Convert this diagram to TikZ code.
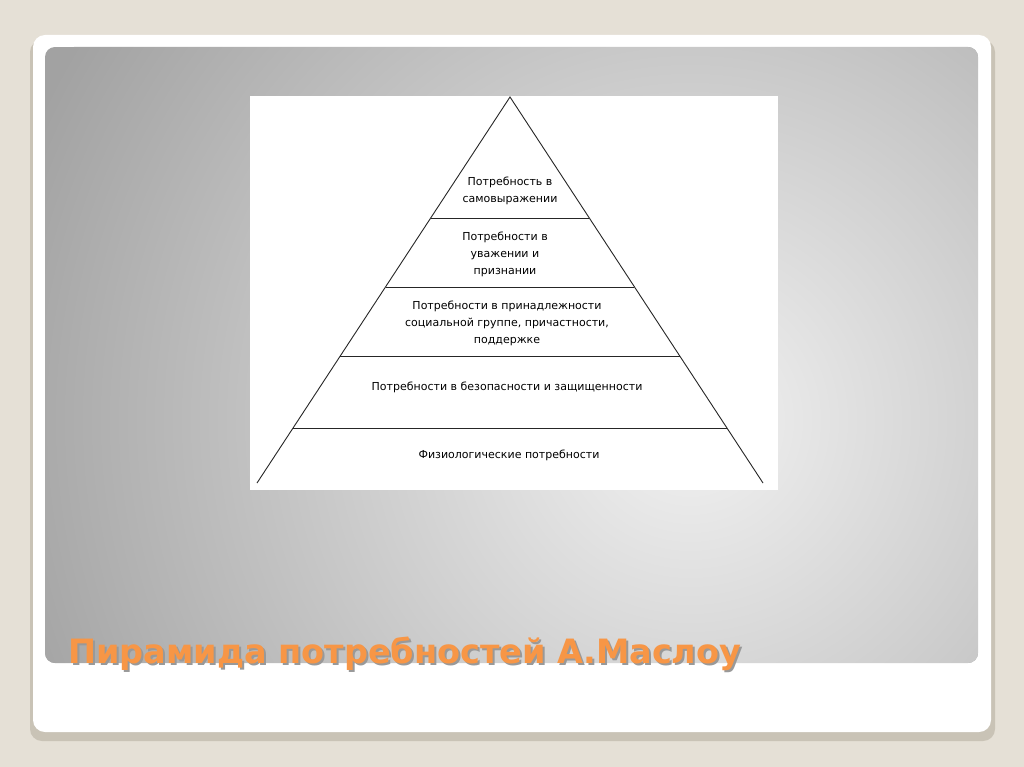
\documentclass[tikz,border=0pt]{standalone}
\usepackage{fontspec}
\setmainfont{DejaVu Sans}
\definecolor{slidebg}{HTML}{E5E0D6}
\definecolor{slideshadow}{HTML}{C9C3B6}
\definecolor{panellight}{HTML}{F2F2F2}
\definecolor{paneldark}{HTML}{A2A2A2}
\definecolor{titleorange}{HTML}{F79646}

\begin{document}
\begin{tikzpicture}[
        x=1pt, y=-1pt,
        level/.style={font=\fontsize{11}{17}\selectfont, align=center, inner sep=0pt},
        heading/.style={font=\fontsize{33.5}{38}\selectfont\bfseries, anchor=base west, inner sep=0pt},
      ]

      \useasboundingbox (0,0) rectangle (1024,767);
      \fill[slidebg] (0,0) rectangle (1024,767);
      \fill[slideshadow, rounded corners=12] (30,40) rectangle (995,741);
      \fill[white, rounded corners=12] (33,35) rectangle (991,732);
      \begin{scope}
        \clip[rounded corners=10] (45,47) rectangle (978,663);
        \fill[paneldark] (45,47) rectangle (978,663);
        \shade[inner color=panellight, outer color=paneldark] (690,420) circle (720);
      \end{scope}

      \draw[draw=none,fill=white] (250,96) rectangle (778,490);
      \draw[line width=0.9pt,black!85] (257,483) -- (510,97) -- (763,483);
      \draw[line width=0.9pt,black!85] (431,218) -- (589,218);
      \draw[line width=0.9pt,black!85] (386,287) -- (634,287);
      \draw[line width=0.9pt,black!85] (340,356) -- (680,356);
      \draw[line width=0.9pt,black!85] (293,428) -- (727,428);

      \path (510,191) node[level] (selfexpr) {Потребность в\\самовыражении};
      \path (505,254) node[level] (esteem) {Потребности в\\уважении и\\признании};
      \path (507,323) node[level] (belonging) {Потребности в принадлежности\\социальной группе, причастности,\\поддержке};
      \path (507,387) node[level] (safety) {Потребности в безопасности и защищенности};
      \path (509,455) node[level] (physio) {Физиологические потребности};

      \path (70,665) node[heading, text=black!40] (titleshadow) {Пирамида потребностей А.Маслоу};
      \path (68,663) node[heading, text=titleorange] (title) {Пирамида потребностей А.Маслоу};

    \end{tikzpicture}
\end{document}
